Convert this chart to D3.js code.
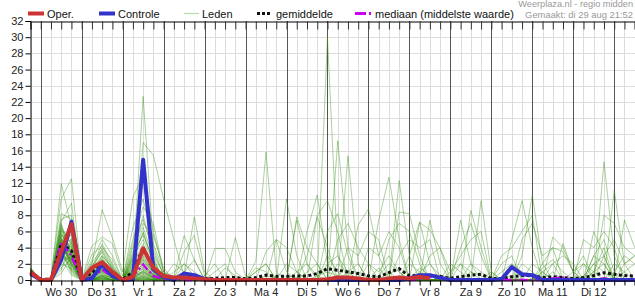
<!DOCTYPE html>
<html><head><meta charset="utf-8">
<script src="https://cdn.jsdelivr.net/npm/d3@7"></script>
<style>
html,body{margin:0;padding:0;background:#fff;}
svg{display:block;font-family:"Liberation Sans",Arial,sans-serif;}
</style></head><body>
<svg id="c" width="635" height="300"></svg>
<script>
// ---- data ----
const startTime = [2023, 7, 29, 18]; // di 29 aug 18:00, 6-hour steps
const stepHours = 6;
const dayLabels = ["Wo 30","Do 31","Vr 1","Za 2","Zo 3","Ma 4","Di 5","Wo 6","Do 7","Vr 8","Za 9","Zo 10","Ma 11","Di 12"];
const yTicks = [0,2,4,6,8,10,12,14,16,18,20,22,24,26,28,30,32];
const legendNames = ["Oper.","Controle","Leden","gemiddelde","mediaan (middelste waarde)"];
const sourceText = "Weerplaza.nl - regio midden";
const madeText = "Gemaakt: di 29 aug 21:52";

const oper = [1.0,0,0,3.5,6.9, 0,1.5,2.2,1.0, 0,0.4,3.9,1.5, 0.5,0.3,0.3,0.2, 0.1,0,0,0, 0,0,0,0, 0,0,0,0, 0.1,0.3,0.3,0.2, 0,0,0.2,0.3, 0.2,0.4,0.2];
const controle = [0.8,0,0,2.5,7.2, 0,0.2,1.9,0.5, 0,0.1,14.85,1.3, 0.4,0,0.8,0.6, 0.1,0,0,0, 0,0,0,0, 0,0,0,0, 0,0,0,0, 0,0,0,0, 0.2,0.6,0.6,0.3, 0,0,0,0, 0,0.1,1.6,0.7, 0.6,0,0,0, 0,0,0,0, 0,0,0];
const gemiddelde = [1.0,0.1,0.1,4.5,3.6, 0.1,0.9,1.9,0.8, 0.1,1.0,4.0,1.3, 0.5,0.3,0.4,0.5, 0.2,0.2,0.3,0.3, 0.15,0.3,0.6,0.45, 0.45,0.5,0.5,0.8, 1.4,1.2,1.0,0.8, 0.5,0.4,0.9,1.4, 0.5,0.6,0.55,0.45, 0.2,0.4,0.6,0.7, 0.2,0.2,0.4,0.55, 0.55,0.3,0.4,0.3, 0.2,0.3,0.55,0.9, 0.7,0.55,0.5];
const mediaan = [0.9,0,0,4.6,3.0, 0,0.3,1.3,0.4, 0,0.5,1.9,0.5, 0.1,0,0,0, 0,0,0,0, 0,0,0,0, 0,0,0,0, 0.1,0,0,0, 0,0,0,0, 0,0.1,0.4,0.2, 0,0,0,0, 0,0,0,0, 0,0,0.2,0.3, 0,0,0,0.2, 0,0,0];

const leden = [
[1.2,0,0,11.9,6.5, 0,0.5,2.5,0.8, 0.3,1.5,22.7,4, 0.5,0,0,0.3, 0,0,0,0, 0,0,0.5,0.3, 0,0,0,0.5, 1,0.5,0,0, 0,0,0,0, 0,0.2,0,0, 0,0,0,0, 0,0.3,0.5,0, 0,0,0,4.5, 1,0,3,5, 1,0,0],
[0.8,0,0.2,10,12.5, 0.3,1,3,1.5, 0,2,17,15.4, 10,5,0.5,0, 0,0,0,0.3, 0,0,0,0, 0.5,0.3,0,0, 0,0,0,0, 0,0,0,0.5, 0,0,0,0, 0,0,1,0.5, 0,0,0,0, 0,0,0,0, 0,0,0,0, 0,0,0],
[1,0,0,8.2,7.5, 0,2,8.7,5.2, 1,10.2,13,6, 1,0.3,5.5,2.5, 0,0,0,0, 0,1,2,0, 0,0,0,0, 0,0,0,0, 0,0.5,2,1, 0,0,0,0, 0,0,0,0, 0,0,0.3,0, 0,0,0,0, 0,0,2,3, 0,0,0],
[1.5,0,0.4,7.5,8, 0,4.2,5.3,4.5, 0.5,5,9,7, 1,0.3,0.5,7.8, 1,0,0,0, 0,0,0,0, 0,0,0,0, 3,1,0,0, 0,0,0,0, 0,1.5,0.5,0, 0,0,0,0, 0,0,0,0, 0,1,2,0, 0,0,0,0, 0,0,0],
[0.6,0,0,7,3, 0,0,0.5,0, 0,0.3,1,0.3, 0,0,3.5,5.5, 0.5,0,0,0, 0,0,0,0, 0,1,2,0.5, 0,0,0,0, 0,1.5,0,0, 0,0,0,0, 0,0,0,0, 0,1,2,0, 0,0,0,0, 0,0.5,2,1, 0,0,0],
[1.1,0,0,6.8,2.5, 0,0.3,1.2,0.3, 0,0.8,2,0.5, 0.3,2,1,2.5, 0,0,0,0, 0,1,2,0, 0,0,0,0, 2,3,1,0, 0,0,0,0, 0,0,0,0, 0,2,1,0, 0,0,0,0, 0,1.5,2.5,1, 0,0,0,0, 2,1,0],
[0.9,0,0,6.5,4.5, 0,1.5,4.5,2, 0,3,8,3, 0.8,0,0,0, 0,3.9,3.9,1, 0,0,0,0, 0,0,1,2, 0,0,0,0, 0,0,0,0, 0,1,2,0.5, 0,0,0,0, 0,0,0,0, 0,0,0,0, 1,2,0,3, 0,0,0],
[1.3,0,0,6.2,2, 0,0,0.2,0, 0,0,0.5,0, 0,0,0,0, 0,0,0,5.25, 0.5,0,0,0, 2,1,0,0, 0,0,0,0, 2,1,3,1, 0,0,0,0, 0,0,0,0, 1,0,2,1, 0,0,0,0, 0,0,0,0, 0,2,3],
[0.7,0,0,6,5.5, 0,0.2,1,0.4, 0,1.2,1.5,0.5, 0,0,0,0, 0,0,0,0, 0,2.3,15.8,1, 0,0,0,0, 0,0,1,2, 0,0,0,0, 0,0,0,0, 1,2,0,0, 0,0,0,0, 0,0,1,0, 0,0,0,0, 0,0,0],
[1,0,0,5.8,3.2, 0,0.8,2.2,1, 0,0.5,3,1, 0,0,0,0, 0,0,0,0, 0,0,3.5,5, 1,0,0,0, 0,2,1,0, 0,0,0,0, 0,0,0,0, 2,1,0,0, 0,0,0,0, 0,0,2,3, 2,0,1,4, 0,0,0],
[0.5,0,0,5.5,1.5, 0,0,0.3,0, 0,6.5,10,4.5, 1,0,0,0, 0,0,0,0, 0,0,0,0, 10,3,0,0, 0,0,0,0, 0,0,1,0, 0,0,0,0, 0,0,0,0, 0,0,0,2, 1,0,0,0, 0,0,0,0, 0,0,0],
[1.4,0,0,5.3,6, 0,1.2,4,2.5, 0,1,2.5,0.8, 0,0,0,0, 0,0,0,0, 0,0,0,0, 0,7.4,2,0, 0,0,0,0, 0,0,0,0, 0,0,0,0, 0,0,2,1, 0,0,0,0, 0,0,0,0, 0,0,0,0, 1,3,2],
[0.8,0,0,5.1,2.8, 0,0,0.8,0.2, 0,0.2,0.3,0, 0,0,0,0, 0,0,0,0, 0,0,0,0, 0,0,6,10.5, 2,0,0,0, 0,0,0,0, 2,1,0,0, 0,0,0,0, 0,0,0,0, 0,0,0,0, 0,0,3,2, 0,0,0],
[1.2,0,0,5,4, 0,0.4,1.5,0.5, 0,2.5,6,2, 0,0,0,0, 0,0,0,0, 0,0,0,0, 0,0,0,0, 30,3,0,0, 0,0,0,0, 0,0,0,0, 0,0,0,0, 0,0,0,0, 0,1,0,0, 0,0,0,0, 0,0,0],
[0.9,0,0,4.9,1.2, 0,2.5,5,3, 0,0,1.2,0.2, 0,0,0,0, 0,0,0,0, 0,0,0,0, 0,0,0,0, 0,17.2,4,0, 0,0,0,0, 0,0,0,0, 0,0,0,0, 0,0,0,0, 0,0,0,0, 0,0,1,2, 0,0,0],
[1,0,0,4.8,3.6, 0,0,0.4,0, 0,4,7,5.5, 1.5,0,0,0, 0,0,0,0, 0,0,0,0, 0,0,0,0, 0,0,15.3,2, 0,0,0,0, 0,0,0,0, 0,0,0,0, 0,2,3,0, 0,0,0,0, 0,0,0,0, 0,0,0],
[0.6,0,0,4.7,2.2, 0,0.6,1.8,0.6, 0,0.6,0.8,0.3, 0,0,0,0, 0,0,0,0, 0,0,0,0, 0,0,0,8, 9.8,6,0,0, 0,0,0,0, 0,0,0,0, 0,0,0,0, 0,0,0,0, 0,0,0,0, 0,0,0,0, 0,0,0],
[1.1,0,0,4.6,7, 0,0,0,0, 0,1.8,2,0.6, 0,0,0,0, 0,0,0,0, 0,0,0,0, 0,0,0,0, 0,0,0,6.8, 8.8,3,0,0, 0,0,0,0, 0,0,0,0, 0,0,0,0, 2,1,0,0, 0,0,0,0, 0,1,2],
[0.8,0,0,4.6,3, 0,1,2.6,1.2, 0,0,0,0, 0,0,0,0, 0,1,2,0, 0,0,0,0, 0,0,0,0, 0,0,0,0, 0,7.4,12.7,5, 0,0,0,0, 0,0,0,0, 0,0,0,0, 0,0,0,0, 0,0,0,0, 0,0,0],
[1.3,0,0,4.5,1.8, 0,0.2,1,0.3, 0,3.5,5.5,2.5, 0,0,0,0, 0,0,0,0, 0,0,0,0, 0,0,0,0, 0,0,0,0, 0,0,0,12.3, 3,0,0,0, 0,0,0,0, 0,0,0,0, 0,0,0,0, 0,2,1,0, 0,0,0],
[0.7,0,0,4.4,5, 0,0,0.2,0, 0,0.4,0.6,0.2, 0,0,0,0, 0,0,1.5,0.5, 0,0,0,0, 0,0,0,0, 0,0,0,0, 0,0,0,8.4, 8.2,3,0,0, 0,0,0,0, 0,0,0,0, 0,0,0,0, 0,0,0,0, 0,0,0],
[1,0,0,4.3,2.6, 0,3.2,4.2,1.8, 0,1,1.8,0.7, 0,0,0,0, 0,0,0,0, 0,0,0,0, 0,0,0,0, 0,0,0,0, 0,0,0,0, 0,7.1,6.2,3.9, 0,0,0,0, 0,0,0,0, 0,0,0,0, 0,0,0,0, 0,0,0],
[0.9,0,0,4.2,3.4, 0,0.5,1.3,0.4, 0,0,0.2,0, 0,1,2,0.5, 0,0,0,0, 0,0,0,0, 0,0,0,0, 0,0,0,0, 0,0,0,0, 3,7.2,2,0, 0,0,0,0, 0,0,0,0, 0,0,0,0, 0,0,0,0, 0,0,0],
[1.2,0,0,4.1,1, 0,0,0.5,0, 0,2.2,4,1.5, 0,0,0,0, 0,0,0,0, 0,0,0,0, 0,0,0,0, 0,0,0,0, 0,0,0,0, 0,0,7.4,2, 0,0,0,0, 0,0,0,0, 0,0,0,0, 0,0,0,0, 0,0,0],
[0.8,0,0,4,6.8, 0,1.8,3.4,1.2, 0,0.8,1.4,0.4, 0,0,0,0, 0,0,0,0, 0,1.5,1,0, 0,0,0,0, 0,0,0,0, 0,0,0,0, 0,0,0,0, 0,7.4,2,0, 0,0,0,0, 0,0,0,0, 0,0,0,0, 0,0,0],
[1,0,0,3.9,2.4, 0,0,0.6,0.2, 0,0,0,0, 0,0,0,0, 0,0,0,0, 0,0,0,0, 0,0,0,0, 0,0,0,0, 0,0,0,0, 0,0,0,0, 0,0,8.6,4, 0,0,0,0, 0,0,0,0, 0,0,0,0, 0,0,0],
[0.6,0,0,3.8,4.2, 0,0.3,1.4,0.5, 0,1.4,2.2,0.9, 0,0,0,0, 0.5,2,0,0, 0,0,0,0, 0,0,0,0, 0,0,0,0, 0,0,0,0, 0,0,0,0, 0,0,0,9.8, 1,0,0,0, 0,0,0,0, 0,0,0,0, 0,0,0],
[1.1,0,0,3.7,0.8, 0,0,0,0, 0,0.2,0.4,0.1, 0,0,0,0, 0,0,0,0, 0,0,0,0, 0,0,0,0, 0,0,0,0, 0,0,0,0, 0,0,0,0, 0,0,0,0, 0,0,5,9.8, 4,0,0,0, 0,0,0,0, 0,0,0],
[0.9,0,0,3.6,3, 0,0.8,2,0.8, 0,4.5,7.5,3.5, 0.6,0,0,0, 0,0,0,0, 0,0,0,0, 0,0,0,0, 0,0,0,0, 0,0,0,0, 0,0,0,0, 0,0,0,0, 0,0,0,3, 10.5,2,0,0, 0,0,0,0, 0,0,0],
[1.4,0,0,3.5,5.8, 0,0,0.9,0.2, 0,0.6,1,0.3, 0,0,2,1, 0,0,0,0, 0,0,0,0, 0,0,0,0, 0,0,0,0, 0,0,0,0, 0,0,0,0, 0,0,0,0, 0,0,0,0, 0,0,5.3,4, 1,0,0,0, 0,0,0],
[0.7,0,0,3.4,2, 0,1.4,3,1.5, 0,0,0.3,0, 0,0,0,0, 0,0,0,0, 0,0,0,0, 0,0,0,0, 0,0,0,0, 0,0,0,0, 0,0,0,0, 0,0,0,0, 0,0,0,0, 0,0,0,0, 0,0,0,14.6, 3,0,0],
[1,0,0,3.2,1.6, 0,0,0.3,0, 0,1.2,2.4,1, 0,0,0,0, 0,0,0,0, 0,0,0,0, 0,0,0,0, 0,0,0,0, 0,0,0,0, 0,0,0,0, 0,0,0,0, 0,0,0,0, 0,0,0,0, 0,0,0,0, 11.1,2,0],
[0.8,0,0,3,3.8, 0,0.2,1.2,0.3, 0,2.8,5,2.2, 0,0,0,0, 0,0,0,0, 0,0,0,0, 0,0,0,0, 0,0,0,0, 0,0,0,0, 0,0,0,0, 0,0,0,0, 0,0,0,0, 0,0,0,0, 0,0,0,0, 0,7.4,4],
[1.2,0,0,2.8,4.6, 0,0.6,1.6,0.6, 0,0.3,0.7,0.2, 0,0,0,0, 0,0,0,0, 0,0,0,5, 4,1,0,0, 0,0,0,0, 0,0,0,0, 0,0,0,0, 0,0,0,0, 0,0,0,0, 0,0,0,0, 0,0,0,0, 0,0,0],
[0.5,0,0,2.6,0.6, 0,0,0,0, 0,1,1.9,0.7, 0,0,0,0, 0,0,0,0, 0,0,0,0, 0,7.8,4,2, 0,0,0,0, 0,0,0,0, 0,0,0,0, 0,0,0,0, 0,0,0,0, 0,0,0,0, 0,0,0,0, 0,0,0],
[1,0,0,2.4,2.8, 0,2.2,3.8,1.6, 0,0,0,0, 0,0,0,0, 0,0,0,0, 0,0,0,0, 0,0,3,7.8, 4,0,0,0, 0,0,0,0, 0,0,0,0, 0,0,0,0, 0,0,0,0, 0,0,0,0, 0,0,0,0, 0,0,0],
[0.9,0,0,2.2,5.2, 0,0,0.7,0.2, 0,1.6,3.2,1.2, 0,0,0,0, 0,0,0,0, 0,0,0,0, 0,0,0,0, 6,8.2,3,0, 0,0,0,0, 0,0,0,0, 0,0,0,0, 0,0,0,0, 0,0,0,0, 0,0,0,0, 0,0,0],
[1.3,0,0,2,1.4, 0,0.4,1.1,0.4, 0,0.5,1.1,0.4, 0,0,0,0, 0,0,0,0, 0,0,0,0, 0,0,0,0, 0,5,7,4, 2,0,0,0, 0,0,0,0, 0,0,0,0, 0,0,0,0, 0,0,0,0, 0,0,0,0, 0,0,0],
[0.6,0,0,1.8,3.2, 0,0,0.2,0, 0,3.2,6.5,2.8, 0,0,0,0, 0,0,0,0, 0,0,0,0, 0,0,0,0, 0,0,4,3, 6,5,0,0, 0,0,0,0, 0,0,0,0, 0,0,0,0, 0,0,0,0, 0,0,0,0, 0,0,0],
[1.1,0,0,1.5,2.6, 0,1,2.4,0.9, 0,0.1,0.2,0, 0,0,0,0, 0,0,0,0, 0,0,0,0, 0,0,0,0, 0,0,0,0, 4,3,6,4, 0,0,0,0, 0,0,0,0, 0,0,0,0, 0,0,0,0, 0,0,0,0, 0,0,0],
[0.8,0,0,5.6,4, 0,0.3,1.3,0.4, 0,1.1,2.6,1, 0,0,0,0, 0,0,0,0, 0,0,0,0, 0,0,0,0, 0,0,0,0, 0,0,5,7, 6,2,0,0, 0,0,0,0, 0,0,0,0, 0,0,0,0, 0,0,0,0, 0,0,0],
[1.2,0,0,5.2,1.8, 0,0,0.5,0, 0,0.7,1.3,0.5, 0,0,0,0, 0,0,0,0, 0,0,0,0, 0,0,0,0, 0,0,0,0, 0,0,0,3, 5,4,5,0, 0,0,0,0, 0,0,0,0, 0,0,0,0, 0,0,0,0, 0,0,0],
[0.9,0,0,4.8,2.2, 0,0.8,2.8,1, 0,0,0,0, 0,0,0,0, 0,0,0,0, 0,0,0,0, 0,0,0,0, 0,0,0,0, 0,0,0,0, 0,0,3,4, 1,3,5,6, 0,0,0,0, 0,0,0,0, 0,0,0,0, 0,0,0],
[0.7,0,0,6.4,3.4, 0,0,0.1,0, 0,2,4.5,1.8, 0,0,0,0, 0,0,0,0, 0,0,0,0, 0,0,0,0, 0,0,0,0, 0,0,0,0, 0,0,0,0, 0,4,7,3, 0,0,0,0, 0,0,0,0, 0,0,0,0, 0,0,0],
[1.5,0,0,7.2,9.5, 0,1.6,3.6,1.3, 0,1.3,2.8,1.1, 0,0,0,0, 0,0,0,0, 0,0,0,0, 0,0,0,0, 0,0,0,0, 0,0,0,0, 0,0,0,0, 0,0,0,0, 0,3,4,6, 8,0,0,0, 0,0,0,0, 0,0,0],
[1,0,0,3.3,1.2, 0,0,0.4,0, 0,0.4,0.9,0.3, 0,0,0,0, 0,0,0,0, 0,0,0,0, 0,0,0,0, 0,0,0,0, 0,0,0,0, 0,0,0,0, 0,0,0,0, 0,0,0,5, 7,3,4,0, 0,0,0,0, 0,0,0],
[0.6,0,0,2.9,2.6, 0,0.4,1.7,0.5, 0,0,0.1,0, 0,0,0,0, 0,0,0,0, 0,0,0,0, 0,0,0,0, 0,0,0,0, 0,0,0,0, 0,0,0,0, 0,0,0,0, 0,0,0,0, 0,2,4,3.5, 1,3,0,0, 0,0,0],
[1.3,0,0,1.2,4.8, 0,0,0,0, 0,2.6,5.8,2.4, 0,0,0,0, 0,0,0,0, 0,0,0,0, 0,0,0,0, 0,0,0,0, 0,0,0,0, 0,0,0,0, 0,0,0,0, 0,0,0,0, 0,0,0,0, 0,5,4,6, 4,0,0],
[0.8,0,0,0.8,3, 0,1.2,2.2,0.7, 0,0.9,1.6,0.6, 0,0,0,0, 0,0,0,0, 0,0,0,0, 0,0,0,0, 0,0,0,0, 0,0,0,0, 0,0,0,0, 0,0,0,0, 0,0,0,0, 0,0,0,0, 0,0,6,3, 5,2,3],
[1.1,0,0,4.6,2, 0,0,0.6,0.2, 0,0.2,0.5,0.1, 0,0,0,0, 0,0,0,0, 0,0,0,0, 0,0,0,0, 0,0,0,0, 0,0,0,0, 0,0,0,0, 0,0,0,0, 0,0,0,0, 0,0,0,0, 0,0,0,8, 7,4,3]
];

// ---- chart ----
const svg = d3.select("#c");
const W = 635, H = 300;
const t0 = new Date(startTime[0], startTime[1], startTime[2], startTime[3]);
const nSteps = 60;
const times = d3.range(nSteps).map(i => d3.timeHour.offset(t0, i * stepHours));
const x = d3.scaleTime().domain([times[0], times[nSteps - 1]]).range([30.5, 634.7]);
const y = d3.scaleLinear().domain([0, 32]).range([280, 21]);
const crisp = v => Math.round(v) + 0.5;

const sixHours = d3.timeHour.every(6).range(t0, d3.timeHour.offset(t0, nSteps * 6));
const midnights = d3.timeDay.range(d3.timeHour.offset(t0, 1), d3.timeHour.offset(t0, nSteps * 6));

const grid = svg.append("g");
grid.selectAll("line.h").data(yTicks.filter(v => v > 0 && v < 32)).join("line")
  .attr("x1", 30.5).attr("x2", W).attr("y1", d => crisp(y(d))).attr("y2", d => crisp(y(d)))
  .attr("stroke", "#dcdcdc").attr("stroke-width", 1);
grid.selectAll("line.v").data(sixHours.filter(d => d.getHours() !== 0)).join("line")
  .attr("x1", d => crisp(x(d))).attr("x2", d => crisp(x(d))).attr("y1", 21).attr("y2", 280)
  .attr("stroke", "#dcdcdc").attr("stroke-width", 1);
grid.selectAll("line.d").data(midnights).join("line")
  .attr("x1", d => crisp(x(d))).attr("x2", d => crisp(x(d))).attr("y1", 21).attr("y2", 280)
  .attr("stroke", "#555").attr("stroke-width", 1);

const line = d3.line().x((d, i) => x(times[i])).y(d => y(d));

// ensemble members
svg.append("g").selectAll("path").data(leden).join("path")
  .attr("d", line).attr("fill", "none")
  .attr("stroke", "rgb(55,145,20)").attr("stroke-opacity", 0.42).attr("stroke-width", 1);

// mean
svg.append("path").datum(gemiddelde).attr("d", line).attr("fill", "none")
  .attr("stroke", "#111").attr("stroke-width", 3).attr("stroke-dasharray", "3,2.5");
// median
svg.append("path").datum(mediaan).attr("d", line).attr("fill", "none")
  .attr("stroke", "#cc00ee").attr("stroke-width", 2.5).attr("stroke-dasharray", "8,3,2,3");
// control
svg.append("path").datum(controle).attr("d", line).attr("fill", "none")
  .attr("stroke", "#3333cc").attr("stroke-width", 4).attr("stroke-linejoin", "round");
// oper
svg.append("path").datum(oper).attr("d", line).attr("fill", "none")
  .attr("stroke", "#cc3333").attr("stroke-width", 4).attr("stroke-linejoin", "round");

// axes
const yAxis = svg.append("g").attr("transform", "translate(30.5,0)")
  .call(d3.axisLeft(y).tickValues(yTicks).tickSize(5).tickPadding(2).tickFormat(d3.format("d")));
yAxis.select(".domain").attr("stroke", "#000");
yAxis.selectAll("text").attr("font-size", 11).attr("fill", "#222")
  .attr("font-family", "Liberation Sans, Arial, sans-serif");

const xAxis = svg.append("g").attr("transform", "translate(0,280.5)")
  .call(d3.axisBottom(x).tickValues(sixHours).tickSize(5).tickFormat(""));
xAxis.select(".domain").attr("stroke", "#000");

const topAxis = svg.append("g").attr("transform", "translate(0,21.5)")
  .call(d3.axisBottom(x).tickValues(sixHours).tickSize(8).tickFormat(""));
topAxis.select(".domain").attr("stroke", "#000");
topAxis.selectAll(".tick line").attr("stroke", "#333");

// day labels at noon
const noons = dayLabels.map((lab, k) => ({ lab, t: d3.timeHour.offset(d3.timeDay.offset(d3.timeDay.floor(t0), k + 1), 12) }));
svg.append("g").selectAll("text").data(noons).join("text")
  .attr("x", d => x(d.t)).attr("y", 296).attr("text-anchor", "middle")
  .attr("font-size", 11).attr("fill", "#222").text(d => d.lab);

// legend
const lg = svg.append("g");
const legendItems = [
  { x1: 28, x2: 44, tx: 47, stroke: "#cc3333", w: 4, dash: null },
  { x1: 99, x2: 115, tx: 118, stroke: "#3333cc", w: 4, dash: null },
  { x1: 184, x2: 199, tx: 202, stroke: "#b8dca8", w: 1.2, dash: null },
  { x1: 257, x2: 271, tx: 276, stroke: "#111", w: 3, dash: "3,2" },
  { x1: 355, x2: 371, tx: 375, stroke: "#cc00ee", w: 3, dash: "11,3,2,3" }
];
legendItems.forEach((it, k) => {
  lg.append("line").attr("x1", it.x1).attr("x2", it.x2).attr("y1", 13.5).attr("y2", 13.5)
    .attr("stroke", it.stroke).attr("stroke-width", it.w).attr("stroke-dasharray", it.dash);
  lg.append("text").attr("x", it.tx).attr("y", 17.5).attr("font-size", 11).attr("fill", "#111")
    .text(legendNames[k]);
});

svg.append("text").attr("x", 633).attr("y", 7).attr("text-anchor", "end")
  .attr("font-size", 9.2).attr("fill", "#999").text(sourceText);
svg.append("text").attr("x", 633).attr("y", 17.5).attr("text-anchor", "end")
  .attr("font-size", 9.4).attr("fill", "#999").text(madeText);
</script>
</body></html>
